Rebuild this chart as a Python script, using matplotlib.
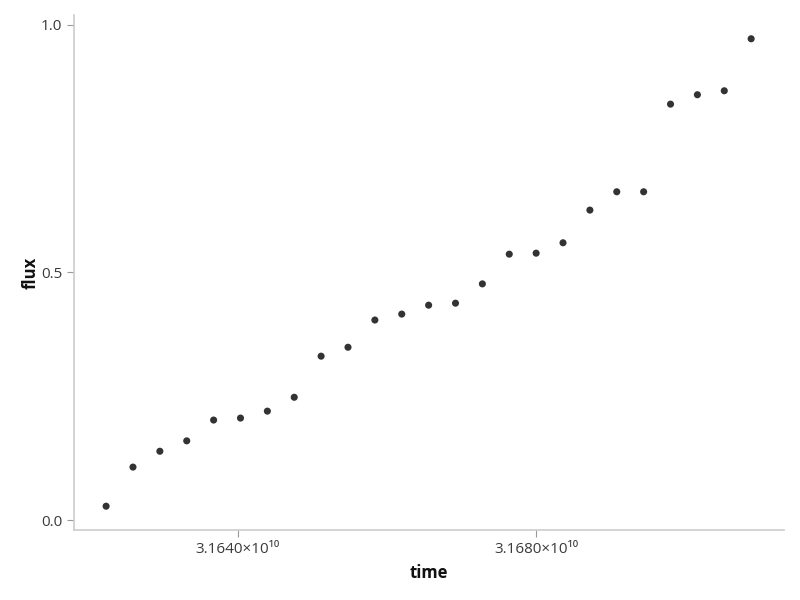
import numpy as np
import matplotlib
matplotlib.use('Agg')
import matplotlib.pyplot as plt
from matplotlib.ticker import FixedLocator, FuncFormatter

plt.rcParams['font.family'] = ['Open Sans', 'DejaVu Sans']

# time in seconds (regularly sampled), flux normalised
time = 3.1680e10 + (np.arange(25) - 16) * 3.6e6
flux = [0.028, 0.107, 0.139, 0.160, 0.202, 0.206, 0.220, 0.248, 0.331, 0.349,
        0.404, 0.416, 0.434, 0.438, 0.477, 0.537, 0.539, 0.560, 0.626, 0.663,
        0.663, 0.840, 0.859, 0.867, 0.972]
xticks = [3.1640e10, 3.1680e10]
yticks = [0.0, 0.5, 1.0]

fig = plt.figure(figsize=(8, 6), dpi=100)
ax = fig.add_axes([0.0925, 0.1167, 0.8875, 0.8583])
ax.scatter(time, flux, s=26, color='#333333', edgecolors='none', zorder=3)

ax.set_xlim(3.16181e10, 3.17132e10)
ax.set_ylim(-0.02, 1.02)

sup = str.maketrans('0123456789', '⁰¹²³⁴⁵⁶⁷⁸⁹')
ax.xaxis.set_major_locator(FixedLocator(xticks))
ax.xaxis.set_major_formatter(FuncFormatter(
    lambda v, p: f"{v / 1e10:.4f}×10" + "10".translate(sup)))
ax.yaxis.set_major_locator(FixedLocator(yticks))
ax.yaxis.set_major_formatter(FuncFormatter(lambda v, p: f"{v:.1f}"))

for s in ['top', 'right']:
    ax.spines[s].set_visible(False)
for s in ['left', 'bottom']:
    ax.spines[s].set_color('#cccccc')
    ax.spines[s].set_linewidth(1.2)
ax.tick_params(colors='#999999', labelcolor='#3a3a3a', labelsize=11, length=5, width=0.8)

ax.set_xlabel('time', fontsize=12, fontweight='bold', color='#111111', labelpad=5)
ax.set_ylabel('flux', fontsize=12, fontweight='bold', color='#111111', labelpad=1)

fig.savefig('out.png', dpi=100)
